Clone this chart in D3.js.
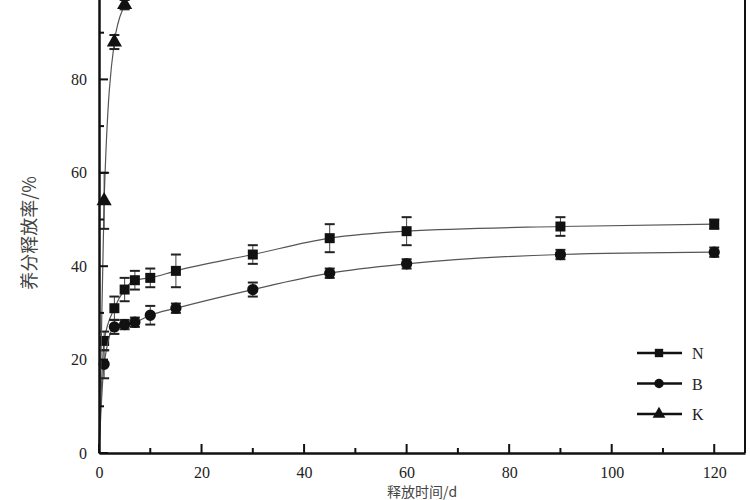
<!DOCTYPE html>
<html><head><meta charset="utf-8">
<script src="https://d3js.org/d3.v7.min.js"></script>
<style>body{margin:0;background:#fff}text{font-family:"Liberation Serif","DejaVu Serif",serif}</style>
</head><body><svg width="750" height="500"></svg>
<script>
var days = [0, 1, 3, 5, 7, 10, 15, 30, 45, 60, 90, 120];
var nVals = [0, 24, 31, 35, 37, 37.5, 39, 42.5, 46, 47.5, 48.5, 49];
var nErr  = [0, 2, 2.5, 2.5, 2, 2, 3.5, 2, 3, 3, 2, 1];
var bVals = [0, 19, 27, 27.5, 28, 29.5, 31, 35, 38.5, 40.5, 42.5, 43];
var bErr  = [0, 3, 1.5, 1, 1, 2, 1, 1.5, 1, 1, 1, 1];
var kDays = [0, 1, 3, 5, 7];
var kVals = [0, 54, 88, 96, 100];
var kErr  = [0, 6, 1.5, 1, 1];
var yTicks = [0, 20, 40, 60, 80];
var xTicks = [0, 20, 40, 60, 80, 100, 120];

var svg = d3.select("svg");
var x = d3.scaleLinear().domain([0, 126]).range([99, 745]);
var y = d3.scaleLinear().domain([0, 100]).range([453, -14]);

var series = [
  {name: "N", xs: days, ys: nVals, es: nErr, sym: d3.symbolSquare, size: 100},
  {name: "B", xs: days, ys: bVals, es: bErr, sym: d3.symbolCircle, size: 100},
  {name: "K", xs: kDays, ys: kVals, es: kErr, sym: d3.symbolTriangle, size: 100}
];

var line = d3.line().x(d => x(d[0])).y(d => y(d[1])).curve(d3.curveMonotoneX);
series.forEach(function(s) {
  var pts = s.xs.map((v, i) => [v, s.ys[i], s.es[i]]);
  svg.append("path").attr("d", line(pts)).attr("fill", "none")
    .attr("stroke", "#555").attr("stroke-width", 1.2);
  var g = svg.append("g");
  pts.slice(1).forEach(function(p) {
    var cx = x(p[0]);
    g.append("line").attr("x1", cx).attr("x2", cx).attr("y1", y(p[1] - p[2])).attr("y2", y(p[1] + p[2]))
      .attr("stroke", "#444").attr("stroke-width", 1);
    [p[1] - p[2], p[1] + p[2]].forEach(function(v) {
      g.append("line").attr("x1", cx - 5).attr("x2", cx + 5).attr("y1", y(v)).attr("y2", y(v))
        .attr("stroke", "#222").attr("stroke-width", 2);
    });
    g.append("path").attr("d", d3.symbol().type(s.sym).size(s.size)())
      .attr("transform", "translate(" + cx + "," + y(p[1]) + ")").attr("fill", "#111");
  });
});

// axes
var xAx = svg.append("g").attr("transform", "translate(0,453)")
  .call(d3.axisBottom(x).tickValues(xTicks).tickSize(0).tickPadding(14));
xAx.selectAll("text").attr("font-size", 16).attr("fill", "#222");
xAx.select(".domain").attr("stroke", "#111").attr("stroke-width", 2.5);
d3.range(0, 121, 10).forEach(function(v) {
  svg.append("line").attr("x1", x(v)).attr("x2", x(v)).attr("y1", 453).attr("y2", v % 20 ? 448 : 444)
    .attr("stroke", "#111").attr("stroke-width", 2);
});
var yAx = svg.append("g").attr("transform", "translate(99,0)")
  .call(d3.axisLeft(y).tickValues(yTicks).tickSize(0).tickPadding(12));
yAx.selectAll("text").attr("font-size", 16).attr("fill", "#222");
yAx.select(".domain").attr("stroke", "#111").attr("stroke-width", 2.5);
d3.range(0, 101, 10).forEach(function(v) {
  svg.append("line").attr("x1", 99).attr("x2", v % 20 ? 104 : 108).attr("y1", y(v)).attr("y2", y(v))
    .attr("stroke", "#111").attr("stroke-width", 2);
});
svg.append("line").attr("x1", 745).attr("x2", 745).attr("y1", 0).attr("y2", 453).attr("stroke", "#111").attr("stroke-width", 2);

svg.append("text").attr("transform", "translate(36,233) rotate(-90)").attr("text-anchor", "middle")
  .attr("font-size", 18).attr("fill", "#444").style("font-family", "Noto Sans CJK SC").text("养分释放率/%");
svg.append("text").attr("x", 422).attr("y", 497).attr("text-anchor", "middle")
  .attr("font-size", 14).attr("fill", "#444").style("font-family", "Noto Sans CJK SC").text("释放时间/d");

// legend
series.forEach(function(s, i) {
  var ly = 353 + i * 30.5;
  svg.append("line").attr("x1", 637).attr("x2", 682).attr("y1", ly).attr("y2", ly).attr("stroke", "#111").attr("stroke-width", 2.5);
  svg.append("path").attr("d", d3.symbol().type(s.sym).size(70)()).attr("transform", "translate(659," + ly + ")").attr("fill", "#111");
  svg.append("text").attr("x", 692).attr("y", ly + 6).attr("font-size", 16).attr("fill", "#222").text(s.name);
});
</script></body></html>
